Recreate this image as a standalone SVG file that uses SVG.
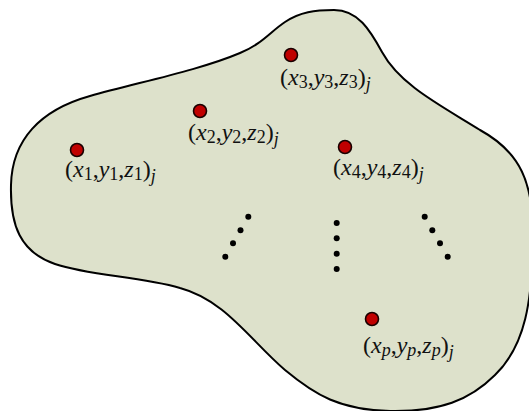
<svg xmlns="http://www.w3.org/2000/svg" width="529" height="411" viewBox="0 0 529 411">
<style>
.blob{fill:#dde1cb;stroke:#000;stroke-width:2}
.pt{fill:#c00000;stroke:#1a0000;stroke-width:1.6}
.dot{fill:#000}
text{font-family:'Liberation Serif','DejaVu Serif',serif;font-size:24px;fill:#111}
.i{font-style:italic}
.s{font-size:18px}
</style>
<path class="blob" d="M334,10 C358,10 370,30 382,52 C400,85 440,105 480,130 C520,152 534,182 533,240 C532,300 526,345 495,375 C470,400 440,412 390,411 C340,410 315,395 285,370 C250,340 225,300 180,288 C140,276 90,276 55,264 C20,252 10,225 11,185 C12,140 40,110 90,96 C140,82 200,70 240,53 C262,44 270,32 285,22 C300,12 315,10 334,10 Z"/>
<g id="p1"><circle class="pt" cx="77" cy="150" r="6.5"/><text x="65" y="177">(<tspan class="i">x</tspan><tspan class="s" dy="3">1</tspan><tspan dy="-3">,</tspan><tspan class="i">y</tspan><tspan class="s" dy="3">1</tspan><tspan dy="-3">,</tspan><tspan class="i">z</tspan><tspan class="s" dy="3">1</tspan><tspan dy="-3">)</tspan><tspan class="i s" dy="5">j</tspan></text></g>
<g id="p2"><circle class="pt" cx="200" cy="111" r="6.5"/><text x="188" y="140">(<tspan class="i">x</tspan><tspan class="s" dy="3">2</tspan><tspan dy="-3">,</tspan><tspan class="i">y</tspan><tspan class="s" dy="3">2</tspan><tspan dy="-3">,</tspan><tspan class="i">z</tspan><tspan class="s" dy="3">2</tspan><tspan dy="-3">)</tspan><tspan class="i s" dy="5">j</tspan></text></g>
<g id="p3"><circle class="pt" cx="291" cy="55" r="6.5"/><text x="280" y="85">(<tspan class="i">x</tspan><tspan class="s" dy="3">3</tspan><tspan dy="-3">,</tspan><tspan class="i">y</tspan><tspan class="s" dy="3">3</tspan><tspan dy="-3">,</tspan><tspan class="i">z</tspan><tspan class="s" dy="3">3</tspan><tspan dy="-3">)</tspan><tspan class="i s" dy="5">j</tspan></text></g>
<g id="p4"><circle class="pt" cx="345" cy="147" r="6.5"/><text x="333" y="175">(<tspan class="i">x</tspan><tspan class="s" dy="3">4</tspan><tspan dy="-3">,</tspan><tspan class="i">y</tspan><tspan class="s" dy="3">4</tspan><tspan dy="-3">,</tspan><tspan class="i">z</tspan><tspan class="s" dy="3">4</tspan><tspan dy="-3">)</tspan><tspan class="i s" dy="5">j</tspan></text></g>
<g id="pp"><circle class="pt" cx="372" cy="319" r="6.5"/><text x="363" y="353">(<tspan class="i">x</tspan><tspan class="i s" dy="3">p</tspan><tspan dy="-3">,</tspan><tspan class="i">y</tspan><tspan class="i s" dy="3">p</tspan><tspan dy="-3">,</tspan><tspan class="i">z</tspan><tspan class="i s" dy="3">p</tspan><tspan dy="-3">)</tspan><tspan class="i s" dy="5">j</tspan></text></g>
<g id="ellipsis">
<circle class="dot" cx="248.3" cy="216.7" r="3"/><circle class="dot" cx="240.5" cy="230.3" r="3"/><circle class="dot" cx="233" cy="243.3" r="3"/><circle class="dot" cx="225.3" cy="256.7" r="3"/>
<circle class="dot" cx="336.7" cy="223" r="3"/><circle class="dot" cx="336.7" cy="238.3" r="3"/><circle class="dot" cx="336.7" cy="253.7" r="3"/><circle class="dot" cx="336.7" cy="269" r="3"/>
<circle class="dot" cx="424.7" cy="216.7" r="3"/><circle class="dot" cx="432.3" cy="230.3" r="3"/><circle class="dot" cx="440" cy="243.3" r="3"/><circle class="dot" cx="447.7" cy="256.7" r="3"/>
</g>
</svg>
